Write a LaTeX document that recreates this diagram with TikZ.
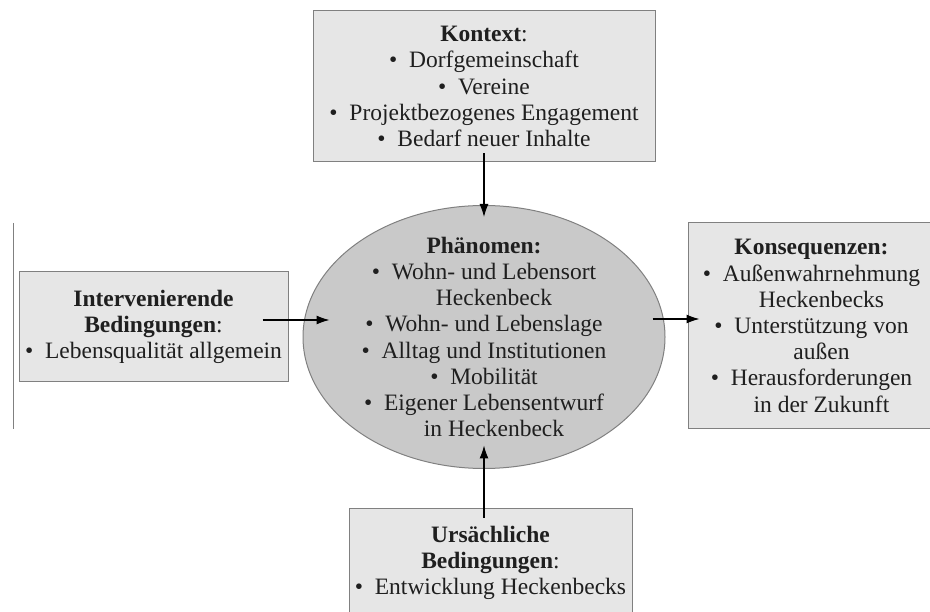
\documentclass[tikz,border=0pt]{standalone}
\usepackage{fontspec}
\setmainfont{Liberation Serif}
\usepackage{xcolor}
\usetikzlibrary{positioning}
\usetikzlibrary{arrows.meta,shapes.geometric}
\definecolor{boxgray}{RGB}{230,230,230}
\definecolor{ovalgray}{RGB}{201,201,201}
\definecolor{linegray}{RGB}{128,128,128}
\newcommand{\itm}{\textbullet\enspace}
\newcommand{\cnt}{\hphantom{\textbullet\enspace}}

\begin{document}
\begin{tikzpicture}[x=1pt, y=-1pt,
                box/.style = {draw=linegray, line width=1pt, fill=boxgray, align=center, inner sep=0pt, text=black!88, font=\fontsize{23.5}{26.2}\selectfont},
                oval/.style = {ellipse, draw=linegray, line width=1pt, fill=ovalgray, inner sep=0pt, minimum width=362pt, minimum height=263pt},
                txt/.style = {align=center, inner sep=0pt, text=black!88, font=\fontsize{23.5}{26.2}\selectfont},
                arr/.style = {-{Latex[length=13pt,width=9pt]}, line width=1.1pt}]
                \useasboundingbox (0,0) rectangle (930,612);
                % left margin line
                \draw[linegray, line width=1pt] (13,223) -- (13,429);
                % phenomenon in the middle
                \node[oval] (phaen) at (484,337) {};
                \node[txt] (phaentxt) at (484,337) {\textbf{Phänomen:}\\\itm Wohn- und Lebensort\\\cnt Heckenbeck\\\itm Wohn- und Lebenslage\\\itm Alltag und Institutionen\\\itm Mobilität\\\itm Eigener Lebensentwurf\\\cnt in Heckenbeck};
                % surrounding boxes
                \node[box, minimum width=342pt, minimum height=151pt] (kontext) at (484,86.5) {\textbf{Kontext}:\\\itm Dorfgemeinschaft\\\itm Vereine\\\itm Projektbezogenes Engagement\\\itm Bedarf neuer Inhalte};
                \node[box, minimum width=269pt, minimum height=110pt] (interv) at (153.5,327) {\textbf{Intervenierende}\\\textbf{Bedingungen}:\\\itm Lebensqualität allgemein};
                \node[box, minimum width=247pt, minimum height=206pt] (kons) at (811.5,326) {\textbf{Konsequenzen:}\\\itm Außenwahrnehmung\\\cnt Heckenbecks\\\itm Unterstützung von\\\cnt außen\\\itm Herausforderungen\\\cnt in der Zukunft};
                \node[box, minimum width=283pt, minimum height=110pt] (urs) at (490.5,563) {\textbf{Ursächliche}\\\textbf{Bedingungen}:\\\itm Entwicklung Heckenbecks};
                % Arrows
                \draw[arr] ([yshift=9pt]kontext.south) -- ([yshift=-12pt]phaen.north);
                \draw[arr] ([xshift=-26pt,yshift=7pt]interv.east) -- ([xshift=27pt,yshift=17pt]phaen.west);
                \draw[arr] ([xshift=-13pt,yshift=18pt]phaen.east) -- ([xshift=12pt,yshift=7pt]kons.west);
                \draw[arr] ([xshift=-6.5pt,yshift=-10pt]urs.north) -- ([yshift=23.5pt]phaen.south);
            \end{tikzpicture}
\end{document}
